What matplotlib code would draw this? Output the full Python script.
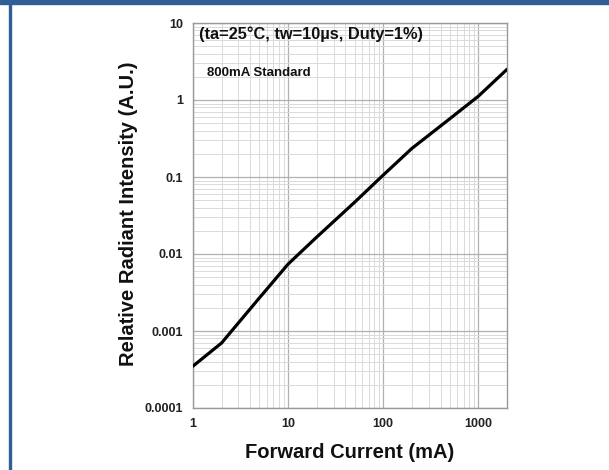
"""
Relative radiant intensity vs forward current (log-log).
"""

import matplotlib
matplotlib.use("Agg")
import matplotlib.pyplot as plt
from matplotlib.patches import Rectangle
from matplotlib.ticker import FixedLocator, LogLocator, NullFormatter

# values
current_ma = [1, 2, 5, 10, 20, 50, 100, 200, 500, 1000, 2000]
intensity = [3.5e-4, 7.0e-4, 2.7e-3, 7.4e-3, 0.0166, 0.047, 0.106, 0.235, 0.57, 1.12, 2.5]

x_ticks = [1, 10, 100, 1000]
x_labels = ["1", "10", "100", "1000"]
y_ticks = [1e-4, 1e-3, 1e-2, 1e-1, 1, 10]
y_labels = ["0.0001", "0.001", "0.01", "0.1", "1", "10"]

border = "#2f5f96"

plt.rcParams["font.family"] = ["Liberation Sans", "DejaVu Sans"]

fig = plt.figure(figsize=(6.09, 4.70), dpi=100)
W, H = 609, 470

# blue frame: top band and left line
fig.patches.append(Rectangle((0, 1 - 4 / H), 1, 4 / H, transform=fig.transFigure,
                             color=border, zorder=0))
fig.patches.append(Rectangle((9 / W, 0), 2 / W, 1, transform=fig.transFigure,
                             color=border, zorder=0))

left, right, top, bottom = 193, 507, 23, 408
ax = fig.add_axes([left / W, 1 - bottom / H, (right - left) / W, (bottom - top) / H])

ax.plot(current_ma, intensity, color="black", lw=2.3, solid_capstyle="round", zorder=3)

ax.set_xscale("log")
ax.set_yscale("log")
ax.set_xlim(1, 2000)
ax.set_ylim(1e-4, 10)

ax.xaxis.set_major_locator(FixedLocator(x_ticks))
ax.set_xticklabels(x_labels)
ax.yaxis.set_major_locator(FixedLocator(y_ticks))
ax.set_yticklabels(y_labels)
ax.xaxis.set_minor_locator(LogLocator(base=10, subs=range(2, 10)))
ax.yaxis.set_minor_locator(LogLocator(base=10, subs=range(2, 10)))
ax.xaxis.set_minor_formatter(NullFormatter())
ax.yaxis.set_minor_formatter(NullFormatter())

ax.grid(which="major", color="#b0b0b0", lw=0.9)
ax.grid(which="minor", color="#dadada", lw=0.7)
ax.set_axisbelow(True)

ax.tick_params(which="both", length=0)
ax.tick_params(axis="x", pad=7, labelsize=9)
ax.tick_params(axis="y", pad=7, labelsize=9)
for lab in ax.get_xticklabels() + ax.get_yticklabels():
    lab.set_fontweight("bold")
    lab.set_color("#222222")

for s in ax.spines.values():
    s.set_color("#999999")
    s.set_linewidth(1.0)

ax.text(199 / W, 1 - 34 / H, "(ta=25°C, tw=10µs, Duty=1%)", transform=fig.transFigure,
        fontsize=11.8, fontweight="bold", va="center", ha="left", color="#111111")
ax.text(207 / W, 1 - 73 / H, "800mA Standard", transform=fig.transFigure,
        fontsize=9.5, fontweight="bold", va="center", ha="left", color="#111111")

fig.text(350 / W, 1 - 453 / H, "Forward Current (mA)", fontsize=14.5, fontweight="bold",
         ha="center", va="center", color="#111111")
fig.text(128 / W, 1 - 214 / H, "Relative Radiant Intensity (A.U.)", fontsize=14.5,
         fontweight="bold", rotation=90, ha="center", va="center", color="#111111")

fig.savefig("out.png", dpi=100)
